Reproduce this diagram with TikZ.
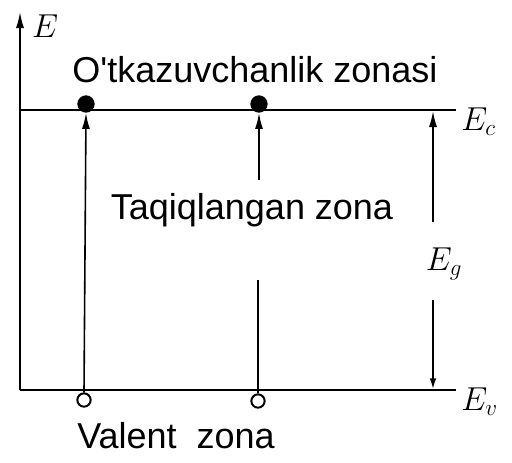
\documentclass[tikz,border=0pt]{standalone}
\usepackage{fontspec}
\setsansfont{Liberation Sans}
\usetikzlibrary{arrows.meta}
\begin{document}
\begin{tikzpicture}[x=0.75pt,y=-0.75pt,
  lvl/.style={line width=2pt},
  thin/.style={line width=1.2pt},
  arr/.style={line width=1.2pt,-{Latex[length=12pt,width=6pt]}},
  zlabel/.style={font=\sffamily\fontsize{27}{30}\selectfont,inner sep=0pt},
  sym/.style={font=\fontsize{27}{30}\selectfont,inner sep=0pt}]
\useasboundingbox (0,0) rectangle (512,462);
% axis
\coordinate (o) at (20,390);
\coordinate (top) at (20,12);
\draw[arr] (o) -- (top);
\node[sym] (E) at (45,26) {$E$};
% levels
\coordinate (c0) at (20,110);
\coordinate (c1) at (456,110);
\coordinate (v0) at (20,390);
\coordinate (v1) at (456,390);
\draw[lvl] (c0) -- (c1);
\draw[thin] (v0) -- (v1);
\node[sym,anchor=west] (Ec) at (461,122) {$E_c$};
\node[sym,anchor=west] (Ev) at (461,402) {$E_v$};
% electrons and holes
\node[circle,fill,inner sep=0pt,minimum size=13pt] (e1) at (86,104) {};
\node[circle,fill,inner sep=0pt,minimum size=13pt] (e2) at (259,104) {};
\node[circle,draw,line width=1.5pt,fill=white,inner sep=0pt,minimum size=10pt] (h1) at (84,400) {};
\node[circle,draw,line width=1.5pt,fill=white,inner sep=0pt,minimum size=10pt] (h2) at (258,401) {};
% transitions
\draw[arr] (h1.north) -- (e1.south);
\coordinate (m1) at (258,280);
\coordinate (m2) at (259,180);
\draw[thin] (h2.north) -- (m1);
\draw[arr] (m2) -- (e2.south);
% band gap
\coordinate (g1) at (433,222);
\coordinate (g2) at (433,300);
\coordinate (gt) at (433,111);
\coordinate (gb) at (433,389);
\draw[arr] (g1) -- (gt);
\draw[line width=1.2pt,-{Latex[length=8pt,width=5pt]}] (g2) -- (gb);
\node[sym] (Eg) at (444,264) {$E_g$};
% texts
\node[zlabel] (cz) at (255,70) {O\textquotesingle tkazuvchanlik zonasi};
\node[zlabel] (tz) at (252,210) {Taqiqlangan zona};
\node[zlabel] (vz) at (176,436) {Valent\ \ zona};
\end{tikzpicture}
\end{document}
